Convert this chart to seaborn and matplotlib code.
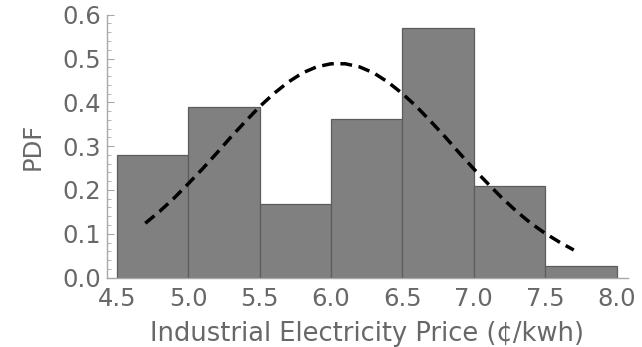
import matplotlib
matplotlib.use("Agg")
import matplotlib.pyplot as plt
from matplotlib.ticker import MultipleLocator, FormatStrFormatter
import seaborn as sns
import pandas as pd

# Histogram of industrial electricity prices (density per 0.5 ¢/kWh bin)
bin_edges = [4.5, 5.0, 5.5, 6.0, 6.5, 7.0, 7.5, 8.0]
bin_density = [0.280, 0.390, 0.167, 0.361, 0.569, 0.210, 0.027]

# Fitted normal density curve
curve_x = [4.7, 4.8, 4.9, 5.0, 5.1, 5.2, 5.3, 5.4, 5.5, 5.6, 5.7, 5.8, 5.9,
           6.0, 6.1, 6.2, 6.3, 6.4, 6.5, 6.6, 6.7, 6.8, 6.9, 7.0, 7.1, 7.2,
           7.3, 7.4, 7.5, 7.6, 7.7]
curve_y = [0.124, 0.151, 0.181, 0.214, 0.248, 0.284, 0.321, 0.356, 0.390,
           0.420, 0.446, 0.467, 0.481, 0.488, 0.488, 0.481, 0.467, 0.446,
           0.420, 0.390, 0.356, 0.321, 0.284, 0.248, 0.214, 0.181, 0.151,
           0.124, 0.101, 0.081, 0.063]

x_ticks = [4.5, 5.0, 5.5, 6.0, 6.5, 7.0, 7.5, 8.0]
y_ticks = [0.0, 0.1, 0.2, 0.3, 0.4, 0.5, 0.6]

sns.set_theme(style="white")
plt.rcParams["font.family"] = ["DejaVu Sans"]

bins = pd.DataFrame({
    "mid": [(a + b) / 2 for a, b in zip(bin_edges[:-1], bin_edges[1:])],
    "density": bin_density,
})
curve = pd.DataFrame({"x": curve_x, "y": curve_y})

fig = plt.figure(figsize=(6.42, 3.47), dpi=100)
ax = fig.add_axes([0.1667, 0.2, 0.8113, 0.7576])

sns.histplot(data=bins, x="mid", weights="density", bins=bin_edges,
             stat="count", color="#808080", alpha=1.0,
             edgecolor="#5c5c5c", linewidth=0.9, ax=ax)
sns.lineplot(data=curve, x="x", y="y", color="black", linewidth=2.5,
             linestyle=(0, (3.4, 1.9)), ax=ax)

ax.set_xlim(4.432, 8.079)
ax.set_ylim(0.0, 0.6)
ax.set_xticks(x_ticks)
ax.set_yticks(y_ticks)
ax.xaxis.set_major_formatter(FormatStrFormatter("%.1f"))
ax.yaxis.set_major_formatter(FormatStrFormatter("%.1f"))
ax.xaxis.set_minor_locator(MultipleLocator(0.1))
ax.yaxis.set_minor_locator(MultipleLocator(0.02))

axis_grey = "#a8a8a8"
label_grey = "#686868"
for side in ("top", "right"):
    ax.spines[side].set_visible(False)
for side in ("left", "bottom"):
    ax.spines[side].set_color(axis_grey)
    ax.spines[side].set_linewidth(1.0)

ax.tick_params(which="major", direction="in", length=5, width=0.8,
               color=axis_grey, labelcolor=label_grey, labelsize=17.5,
               left=True, bottom=True)
ax.tick_params(which="minor", direction="in", length=3, width=0.6,
               color=axis_grey, left=True, bottom=True)
ax.tick_params(axis="y", pad=4)
ax.tick_params(axis="x", pad=7)

ax.set_xlabel("Industrial Electricity Price (¢/kwh)", fontsize=18.5,
              color=label_grey, labelpad=7)
ax.set_ylabel("PDF", fontsize=17.5, color=label_grey, labelpad=13)

fig.savefig("out.png", dpi=100)
